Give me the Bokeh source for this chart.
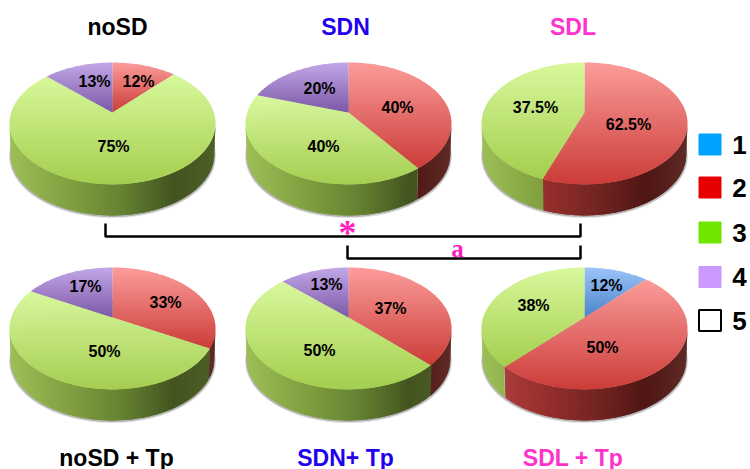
import numpy as np
from bokeh.plotting import figure
from bokeh.models import Range1d
from bokeh.core.properties import value
from bokeh.embed import file_html
from bokeh.resources import INLINE

# ---- data -----
categories = ["1", "2", "3", "4", "5"]
group_names = ["noSD", "SDN", "SDL", "noSD + Tp", "SDN+ Tp", "SDL + Tp"]
# slice sizes as drawn in the picture
noSD = [0, 12, 75, 13]
SDN = [0, 40, 40, 20]
SDL = [0, 55.6, 44.4, 0]
noSD_Tp = [0, 33, 50, 17]
SDN_Tp = [0, 37.5, 49.5, 13]
SDL_Tp = [12, 50, 38, 0]
series = [noSD, SDN, SDL, noSD_Tp, SDN_Tp, SDL_Tp]
# percentages as printed on the slices
noSD_text = [None, "12%", "75%", "13%"]
SDN_text = [None, "40%", "40%", "20%"]
SDL_text = [None, "62.5%", "37.5%", None]
noSD_Tp_text = [None, "33%", "50%", "17%"]
SDN_Tp_text = [None, "37%", "50%", "13%"]
SDL_Tp_text = ["12%", "50%", "38%", None]
printed = [noSD_text, SDN_text, SDL_text, noSD_Tp_text, SDN_Tp_text, SDL_Tp_text]

# ---- style / layout -----
legend_colors = ["#00a2ff", "#e60000", "#6ee600", "#cc99ff", "#ffffff"]
title_colors = ["#000000", "#2200ee", "#ff33cc", "#000000", "#2200ee", "#ff33cc"]
top_grad = [("#9cc4f8", "#4a84cc"), ("#fb9c9a", "#cb3c38"), ("#d8f89c", "#a4ce4e"), ("#c2a8e8", "#7c58a6")]
rim_stops_t = [0.0, 0.3, 0.55, 0.8, 1.0]
rim_stops = [
    ["#6c9ad0", "#4f78a8", "#3a5a80", "#24405c", "#2c4a68"],
    ["#b54444", "#982f2d", "#752523", "#4f1614", "#5f2a26"],
    ["#9dbf57", "#7f9f3f", "#648232", "#43541f", "#4e5f28"],
    ["#8a70b0", "#6f5894", "#564474", "#3c2e54", "#46385e"],
]
centers_x = [112, 348, 584, 112, 348, 584]
centers_y = [112, 112, 112, 317, 317, 317]
RX, A, K, DEPTH = 101.3, 59.0, 0.18, 31.0
title_pos = [(117, 26.5), (345, 26.5), (572.5, 26.5), (116, 457), (345, 457), (572.5, 457)]
label_pos = [
    [None, (138, 81), (113, 146), (94, 81)],
    [None, (397, 107), (323, 146), (319, 88)],
    [None, (628, 124), (535, 107), None],
    [None, (165, 302), (104, 351), (85, 286)],
    [None, (390, 308), (319, 350), (326, 284)],
    [(606, 285), (602, 347), (533, 305), None],
]
legend_y = [144, 187, 232, 276.5, 320]


def hex2rgb(h):
    return np.array([int(h[i:i + 2], 16) for i in (1, 3, 5)], dtype=float)


def mix(c0, c1, t):
    c = hex2rgb(c0) * (1 - t) + hex2rgb(c1) * t
    return "#%02x%02x%02x" % tuple(int(round(v)) for v in c)


def project(cx, cy, theta, scale=1.0, dy=0.0):
    X, Y = np.sin(theta), -np.cos(theta)
    w = 1 - K * Y
    return cx + scale * RX * X / w, cy + A * Y / w + dy


def clip_band(pts, y0, y1):
    def clip(poly, keep, cross_y):
        out = []
        n = len(poly)
        for i in range(n):
            p, q = poly[i], poly[(i + 1) % n]
            kp, kq = keep(p[1]), keep(q[1])
            if kp:
                out.append(p)
            if kp != kq:
                f = (cross_y - p[1]) / (q[1] - p[1])
                out.append((p[0] + f * (q[0] - p[0]), cross_y))
        return out
    r = clip(pts, lambda y: y >= y0, y0)
    if r:
        r = clip(r, lambda y: y <= y1, y1)
    return r


def rim_color(idx, t):
    st = rim_stops[idx]
    for j in range(len(rim_stops_t) - 1):
        if t <= rim_stops_t[j + 1]:
            f = (t - rim_stops_t[j]) / (rim_stops_t[j + 1] - rim_stops_t[j])
            return mix(st[j], st[j + 1], f)
    return st[-1]


p = figure(width=750, height=469, output_backend="svg", toolbar_location=None,
           x_range=Range1d(0, 750), y_range=Range1d(469, 0), min_border=0,
           outline_line_color=None, background_fill_color="white",
           border_fill_color="white")
p.axis.visible = False
p.grid.visible = False

sx, sy = [], []
rim_layers = []
tx, ty, tc = [], [], []
th_right = np.arccos(-K)
th_left = 2 * np.pi - th_right

for vals, cx, cy in zip(series, centers_x, centers_y):
    full = np.linspace(0, 2 * np.pi, 200)
    sxs, sys = project(cx, cy, full, 0.995, DEPTH + 1.5)
    sx.append(list(sxs))
    sy.append(list(sys))
    cum = np.cumsum([0] + vals) / 100.0 * 2 * np.pi
    left = cx - RX / np.sqrt(1 - K * K)
    width = 2 * RX / np.sqrt(1 - K * K)
    edges = np.linspace(th_right, th_left, 81)
    for j in range(len(edges) - 1):
        a0 = edges[j]
        a1 = edges[j + 1]
        mid = 0.5 * (a0 + a1)
        idx = min(max(int(np.searchsorted(cum, mid) - 1), 0), 3)
        stop = min(edges[min(j + 2, len(edges) - 1)], cum[idx + 1] if cum[idx + 1] > a0 else a1)
        arc = np.linspace(a0, max(stop, a1 if cum[idx + 1] > a1 else stop), 4)
        xt, yt = project(cx, cy, arc)
        xb, yb = project(cx, cy, arc[::-1], 0.988, DEPTH)
        t = (project(cx, cy, np.array([mid]))[0][0] - left) / width
        rim_layers.append((list(xt) + list(xb), list(yt) + list(yb), rim_color(idx, float(np.clip(t, 0, 1)))))
    for i, v in enumerate(vals):
        if v <= 0:
            continue
        arc = np.linspace(cum[i], cum[i + 1], max(int(v * 3), 8))
        ax, ay = project(cx, cy, arc)
        poly = [(float(cx), float(cy))] + list(zip(ax.tolist(), ay.tolist()))
        ymin = min(q[1] for q in poly)
        ymax = max(q[1] for q in poly)
        y = ymin
        while y < ymax:
            band = clip_band(poly, y, min(y + 2.5, ymax))
            if band:
                f = (y + 1.0 - ymin) / (ymax - ymin)
                tx.append([q[0] for q in band])
                ty.append([q[1] for q in band])
                tc.append(mix(top_grad[i][0], top_grad[i][1], min(f, 1)))
            y += 2.0

p.patches(sx, sy, fill_color="#707070", fill_alpha=0.45, line_color="#808080",
          line_alpha=0.25, line_width=2)
p.patches([r[0] for r in rim_layers], [r[1] for r in rim_layers],
          fill_color=[r[2] for r in rim_layers], line_color=None)
p.patches(tx, ty, fill_color=tc, line_color=None)

# brackets
p.line([105, 105, 580, 580], [223, 236, 236, 223], line_color="black", line_width=2.5)
p.line([347, 347, 580, 580], [245, 258, 258, 245], line_color="black", line_width=2.5)

# percent labels
lx, ly, lt = [], [], []
for texts, pos in zip(printed, label_pos):
    for s, q in zip(texts, pos):
        if s:
            lx.append(q[0])
            ly.append(q[1])
            lt.append(s)
p.text(lx, ly, text=lt, text_font=value("Liberation Sans"), text_font_style="bold",
       text_font_size="16px", text_color="black", text_align="center", text_baseline="middle")

# titles
p.text([q[0] for q in title_pos], [q[1] for q in title_pos], text=group_names,
       text_font=value("Liberation Sans"), text_font_style="bold", text_font_size="23px",
       text_color=title_colors, text_align="center", text_baseline="middle")

# significance marks
p.text([347], [232], text=["*"], text_font=value("Liberation Serif"), text_font_style="bold",
       text_font_size="36px", text_color="#ff1fc0", text_align="center", text_baseline="middle")
p.text([457], [247.5], text=["a"], text_font=value("Liberation Serif"), text_font_style="bold",
       text_font_size="25px", text_color="#ff1fc0", text_align="center", text_baseline="middle")

# legend
p.rect([709.5] * 5, legend_y, width=22, height=21, fill_color=legend_colors,
       line_color=["#00a2ff", "#e60000", "#6ee600", "#cc99ff", "#000000"], line_width=[1, 1, 1, 1, 2])
p.text([739] * 5, legend_y, text=categories, text_font=value("Liberation Sans"),
       text_font_style="bold", text_font_size="26px", text_color="black",
       text_align="center", text_baseline="middle")

open("out.html", "w").write(file_html(p, INLINE))
